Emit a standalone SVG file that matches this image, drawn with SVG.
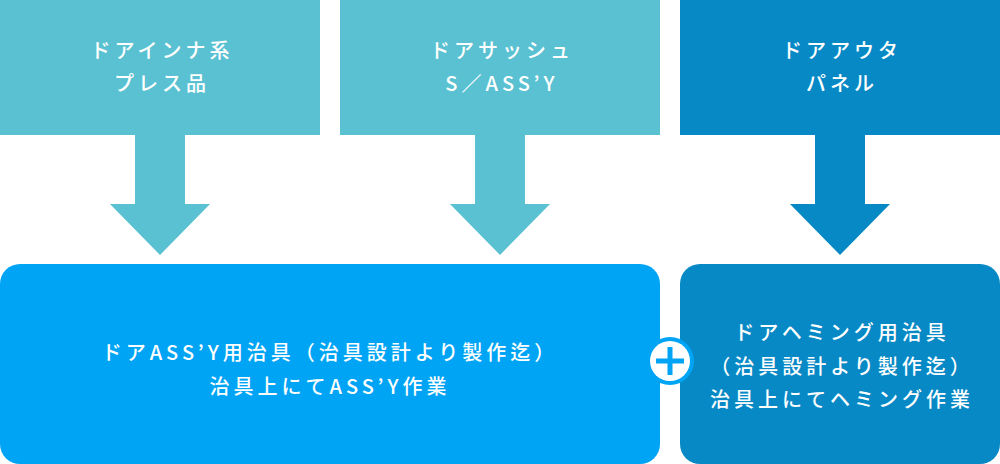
<svg xmlns="http://www.w3.org/2000/svg" width="1000" height="464" viewBox="0 0 1000 464">
<style>
.t{font-family:"Noto Sans CJK JP","Noto Sans",sans-serif;font-size:20px;font-weight:500;fill:#ffffff;letter-spacing:4px;text-anchor:middle}
.teal{fill:#59c1d1}
.dark{fill:#0789c6}
.bright{fill:#00a4f5}
</style>
<rect width="1000" height="464" fill="#ffffff"/>
<g id="connectors">
<polygon class="teal" points="135,134 185,134 185,204 210,204 160,255 110,204 135,204"/>
<polygon class="teal" points="475,134 525,134 525,204 550,204 500,255 450,204 475,204"/>
<polygon class="dark" points="815,134 865,134 865,204 890,204 840,255 790,204 815,204"/>
</g>
<g id="node-inner">
<rect class="teal" x="0" y="0" width="320" height="135"/>
<text class="t" x="162" y="58">ドアインナ系</text>
<text class="t" x="162" y="91">プレス品</text>
</g>
<g id="node-sash">
<rect class="teal" x="340" y="0" width="320" height="135"/>
<text class="t" x="502" y="58">ドアサッシュ</text>
<text class="t" x="502" y="91">S／ASS’Y</text>
</g>
<g id="node-outer">
<rect class="dark" x="680" y="0" width="320" height="135"/>
<text class="t" x="842" y="58">ドアアウタ</text>
<text class="t" x="842" y="91">パネル</text>
</g>
<g id="node-assy">
<rect class="bright" x="0" y="264" width="660" height="200" rx="20" ry="20"/>
<text class="t" x="330" y="360">ドアASS’Y用治具（治具設計より製作迄）</text>
<text class="t" x="330" y="394">治具上にてASS’Y作業</text>
</g>
<g id="node-hemming">
<rect class="dark" x="680" y="264" width="320" height="200" rx="20" ry="20"/>
<text class="t" x="842" y="340">ドアヘミング用治具</text>
<text class="t" x="842" y="374">（治具設計より製作迄）</text>
<text class="t" x="842" y="407">治具上にてヘミング作業</text>
</g>
<g id="plus">
<circle cx="670" cy="361" r="24" fill="#00a4f5"/>
<circle cx="670" cy="361" r="20" fill="#ffffff"/>
<path d="M656 361H684M670 347V375" stroke="#00a4f5" stroke-width="5" fill="none"/>
</g>
</svg>
